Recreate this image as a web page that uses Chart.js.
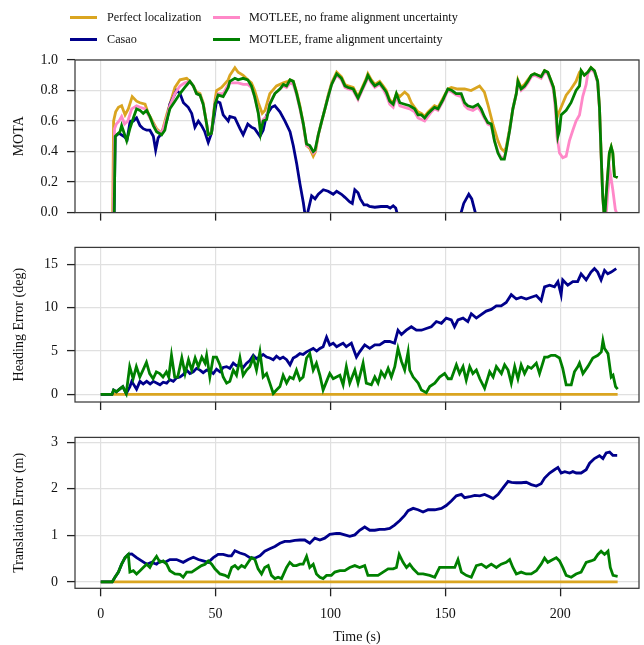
<!DOCTYPE html>
<html>
<head>
<meta charset="utf-8">
<script src="https://cdn.jsdelivr.net/npm/chart.js@4/dist/chart.umd.min.js"></script>
<style>
  html,body{margin:0;padding:0;background:#fff;}
  #wrap{position:relative;width:644px;height:645px;overflow:hidden;font-family:"Liberation Serif","Times New Roman",serif;}
  canvas{position:absolute;left:0;}
  .lg-line{position:absolute;height:3px;width:27px;}
  .lg-text{position:absolute;font-size:12.2px;line-height:14px;color:#111;white-space:nowrap;}
</style>
</head>
<body>
<div id="wrap">
  <canvas id="c1" width="644" height="190" style="top:40px"></canvas>
  <canvas id="c2" width="644" height="190" style="top:230px"></canvas>
  <canvas id="c3" width="644" height="225" style="top:420px"></canvas>
  <div id="legend"></div>
</div>
<script>
// ---------- data ----------
const seriesNames = ["Perfect localization", "Casao", "MOTLEE, no frame alignment uncertainty", "MOTLEE, frame alignment uncertainty"];
const seriesColors = ["#DAA520", "#00008B", "#FF88C8", "#008000"];

const xTicks = [0, 50, 100, 150, 200];
const motaTicks = [0, 0.2, 0.4, 0.6, 0.8, 1.0];
const headingTicks = [0, 5, 10, 15];
const translationTicks = [0, 1, 2, 3];

// MOTA  [time, value]
const motaPerfect = [[4.8,-0.6],[5.6,0.6],[6.5,0.66],[7.7,0.69],[9.1,0.70],[10.6,0.64],[12,0.68],[13.7,0.76],[15.6,0.73],[17.1,0.72],[19.3,0.71],[20.7,0.65],[22.9,0.59],[24.3,0.55],[26.5,0.52],[28.7,0.64],[30.1,0.71],[32.3,0.82],[34.5,0.87],[37.4,0.88],[38.8,0.86],[40.3,0.83],[41.7,0.79],[43.2,0.78],[44.6,0.72],[46.1,0.58],[46.8,0.51],[48.2,0.52],[49.7,0.73],[50.4,0.80],[52.6,0.82],[55.5,0.87],[56.2,0.90],[58.4,0.95],[59.8,0.92],[62,0.90],[64,0.87],[65.6,0.85],[67,0.80],[68.6,0.72],[70.3,0.65],[71.5,0.67],[73.6,0.78],[76.5,0.83],[79.5,0.85],[81.5,0.86],[82.4,0.87],[83.8,0.86],[85.3,0.79],[86.7,0.70],[88.2,0.58],[89.6,0.44],[91,0.42],[92.5,0.37],[93.5,0.40],[94.7,0.51],[96.2,0.60],[97.6,0.68],[99,0.77],[100.5,0.85],[102.7,0.92],[104.8,0.89],[106.3,0.84],[107.7,0.83],[109.9,0.82],[112,0.76],[113.5,0.81],[115.6,0.88],[116.3,0.91],[117.8,0.87],[119.3,0.84],[121.4,0.86],[122.9,0.83],[124.3,0.80],[125.8,0.74],[127.3,0.72],[128.7,0.78],[130.2,0.76],[132.3,0.79],[133.8,0.77],[135.2,0.72],[136.6,0.69],[138.1,0.66],[139.6,0.65],[141,0.63],[142.5,0.66],[143.9,0.68],[145.3,0.70],[146.8,0.69],[149,0.75],[151.1,0.81],[152.6,0.82],[155.4,0.81],[158.4,0.81],[161.2,0.80],[164.9,0.83],[167,0.79],[168.5,0.71],[170.7,0.58],[172.9,0.47],[174.3,0.42],[175.7,0.40],[176.5,0.43],[178,0.55],[179.4,0.68],[180.9,0.78],[181.6,0.87],[183,0.82],[184.5,0.84],[185.9,0.87],[187.4,0.90],[188.8,0.91],[190.3,0.90],[191.7,0.89],[193.2,0.93],[194.6,0.92],[196.1,0.86],[197.1,0.82],[198,0.72],[198.6,0.62],[199,0.64],[200.4,0.69],[202.6,0.77],[204.7,0.81],[206.9,0.86],[208.4,0.92],[209.1,0.93],[210.5,0.90],[212,0.92],[213.4,0.95],[214.9,0.93],[216.3,0.86],[217.1,0.69],[217.8,0.39],[218.5,0.11],[219.3,-0.05],[220,0.11],[221.4,0.39],[222.2,0.43],[222.9,0.39],[223.6,0.24],[225,0.23]];

const motaCasao = [[5.3,-0.6],[6.3,0.5],[8,0.52],[10,0.5],[11.5,0.48],[12.8,0.6],[14.2,0.6],[15.6,0.62],[17.1,0.57],[18.5,0.55],[20,0.54],[21.4,0.54],[22.9,0.50],[23.9,0.41],[25,0.49],[26.5,0.52],[28.7,0.60],[30.1,0.71],[33,0.80],[34.5,0.78],[36,0.72],[38.1,0.69],[39.6,0.65],[41,0.56],[42.5,0.60],[43.9,0.57],[45.3,0.53],[46.8,0.46],[48.2,0.52],[50.4,0.73],[51.9,0.72],[53.3,0.64],[55.5,0.60],[56.2,0.63],[58.4,0.62],[60.6,0.55],[62,0.51],[64,0.58],[65.6,0.56],[67,0.55],[69.3,0.50],[70.7,0.54],[72.2,0.64],[74.4,0.69],[75.8,0.70],[78,0.66],[80.2,0.60],[82.4,0.53],[83.8,0.44],[85.3,0.32],[86.7,0.19],[88.2,0.065],[88.9,-0.01],[89.8,-0.02],[90.4,0.02],[91.8,0.11],[93.3,0.09],[94.7,0.12],[96.9,0.15],[99,0.14],[101.2,0.12],[102.7,0.14],[104.8,0.12],[106.3,0.10],[108.4,0.07],[109.5,0.06],[110.6,0.15],[112,0.13],[113,0.09],[114.6,0.05],[116,0.05],[117,0.04],[119.3,0.035],[122,0.04],[124.7,0.04],[126,0.03],[127.3,0.045],[128.4,0.03],[129.3,-0.02],[131,-0.3],[155,-0.3],[156.5,-0.02],[158,0.06],[160.2,0.12],[161.5,0.09],[163.4,-0.02],[165,-0.3],[218.6,-0.3],[219.6,0.03],[220.4,-0.3]];

const motaNoAlign = [[5.0,-0.6],[6.0,0.55],[6.8,0.58],[8.0,0.60],[9.1,0.63],[10.4,0.58],[11.8,0.60],[13.5,0.68],[15.6,0.70],[17.1,0.69],[19.3,0.68],[20.7,0.64],[22.9,0.58],[24.3,0.54],[26.5,0.52],[28.7,0.62],[30.1,0.70],[32.3,0.78],[34.5,0.83],[36.6,0.85],[38.8,0.86],[40.3,0.83],[41.7,0.78],[43.2,0.77],[44.6,0.71],[46.1,0.58],[46.8,0.51],[48.2,0.52],[49.7,0.72],[51.1,0.78],[53.3,0.78],[55.5,0.84],[56.2,0.85],[58.4,0.85],[59.8,0.85],[62,0.84],[64,0.84],[65.6,0.82],[67,0.76],[68.6,0.66],[69.8,0.55],[70.7,0.61],[72.2,0.63],[73.6,0.72],[75.8,0.78],[78,0.81],[79.5,0.83],[80.9,0.82],[82.4,0.85],[83.8,0.84],[85.3,0.77],[86.7,0.68],[88.2,0.57],[89.6,0.44],[91,0.43],[92.5,0.39],[93.3,0.40],[94.7,0.51],[96.2,0.60],[97.6,0.68],[99,0.76],[100.5,0.84],[102.7,0.90],[104.8,0.87],[106.3,0.82],[107.7,0.81],[109.9,0.80],[112,0.74],[113.5,0.79],[115.6,0.86],[116.3,0.89],[117.8,0.85],[119.3,0.82],[121.4,0.84],[122.9,0.81],[124.3,0.77],[125.8,0.71],[127.3,0.69],[128.7,0.76],[130.2,0.70],[132.3,0.69],[134.5,0.68],[136.6,0.66],[138.1,0.62],[139.6,0.61],[141,0.60],[142.5,0.63],[143.9,0.66],[145.3,0.68],[146.8,0.67],[149,0.73],[151.1,0.80],[152.9,0.79],[154.7,0.77],[156.9,0.76],[158.4,0.70],[159.8,0.68],[162,0.67],[164.2,0.69],[165.6,0.66],[167,0.62],[168.5,0.58],[170,0.57],[171.4,0.47],[172.9,0.40],[174.3,0.36],[175.7,0.36],[176.5,0.41],[178,0.54],[179.4,0.68],[180.9,0.78],[181.6,0.85],[183,0.80],[184.5,0.82],[185.9,0.85],[187.4,0.89],[188.8,0.90],[190.3,0.89],[191.7,0.88],[193.2,0.92],[194.6,0.91],[196.1,0.85],[197.1,0.80],[198,0.66],[198.6,0.50],[199,0.46],[199.7,0.39],[201.1,0.36],[202.6,0.37],[204,0.47],[205.5,0.54],[206.9,0.60],[208.4,0.64],[209.8,0.76],[211.3,0.84],[212,0.91],[213.4,0.94],[214.9,0.92],[216.3,0.85],[217.1,0.68],[217.8,0.38],[218.5,0.10],[219.3,-0.05],[220,-0.02],[220.7,0.13],[221.7,0.27],[222.9,0.15],[224,0.02],[225,-0.02]];

const motaAlign = [[5.3,-0.6],[6.3,0.5],[7.0,0.51],[8.4,0.53],[9.1,0.57],[10.2,0.52],[11.3,0.47],[12.7,0.55],[14.2,0.62],[15.6,0.68],[17.1,0.67],[18.5,0.65],[20,0.67],[21.4,0.63],[22.9,0.57],[24.3,0.53],[26.5,0.51],[27.9,0.54],[28.7,0.60],[30.1,0.68],[32.3,0.73],[34.5,0.78],[36.6,0.82],[38.8,0.86],[40.3,0.83],[41.7,0.78],[43.2,0.77],[44.6,0.71],[46.1,0.58],[46.8,0.51],[48.2,0.52],[49.7,0.71],[51.1,0.77],[53.3,0.76],[55.5,0.82],[56.2,0.86],[58.4,0.88],[59.8,0.87],[62,0.88],[64,0.87],[65.6,0.83],[67,0.76],[68.6,0.65],[69.6,0.52],[70.7,0.60],[72.2,0.61],[73.6,0.71],[75.8,0.78],[78,0.81],[79.5,0.84],[80.9,0.83],[82.4,0.87],[83.8,0.86],[85.3,0.78],[86.7,0.69],[88.2,0.58],[89.6,0.45],[91,0.44],[92.5,0.40],[93.3,0.41],[94.7,0.51],[96.2,0.60],[97.6,0.68],[99,0.76],[100.5,0.84],[102.7,0.91],[104.8,0.88],[106.3,0.83],[107.7,0.82],[109.9,0.81],[112,0.75],[113.5,0.80],[115.6,0.87],[116.3,0.90],[117.8,0.86],[119.3,0.83],[121.4,0.85],[122.9,0.82],[124.3,0.79],[125.8,0.73],[127.3,0.71],[128.7,0.78],[130.2,0.72],[132.3,0.71],[134.5,0.70],[136.6,0.68],[138.1,0.64],[139.6,0.64],[141,0.62],[142.5,0.65],[143.9,0.67],[145.3,0.69],[146.8,0.68],[149,0.74],[151.1,0.81],[152.9,0.80],[154.7,0.78],[156.9,0.78],[158.4,0.72],[159.8,0.70],[162,0.69],[164.2,0.71],[165.6,0.68],[167,0.63],[168.5,0.59],[170,0.58],[171.4,0.47],[172.9,0.39],[174.3,0.35],[175.7,0.35],[176.5,0.41],[178,0.54],[179.4,0.68],[180.9,0.78],[181.6,0.86],[183,0.81],[184.5,0.83],[185.9,0.86],[187.4,0.90],[188.8,0.91],[190.3,0.90],[191.7,0.89],[193.2,0.93],[194.6,0.92],[196.1,0.86],[197.1,0.82],[198,0.71],[198.6,0.58],[199,0.50],[199.7,0.54],[200.4,0.64],[202.6,0.67],[204.7,0.72],[206.9,0.80],[208.4,0.83],[209.1,0.93],[210.5,0.90],[212,0.92],[213.4,0.95],[214.9,0.93],[216.3,0.86],[217.1,0.69],[217.8,0.39],[218.5,0.11],[219.3,-0.05],[220,0.11],[221.4,0.39],[222.2,0.43],[222.9,0.39],[223.6,0.24],[225,0.23]];

// Heading error (deg)  [time, value]
const headingPerfect = [[0,0],[225,0]];
const headingCasao = [[0,0],[4.9,0],[5.6,0.5],[6.8,0.3],[8.2,0.6],[9.6,0.9],[11.1,0.1],[12.7,0.9],[13.5,1.5],[15.6,0.6],[17.1,1.5],[18.5,1.2],[20,1.5],[21.5,1.2],[22.9,1.5],[25.8,1.1],[27.2,1.4],[28.7,1.3],[30.1,1.7],[31.6,1.5],[33,1.9],[34.5,2.0],[36,2.3],[37.4,2.8],[38.8,2.4],[40.3,2.6],[41.7,3.0],[43.2,2.8],[44.6,2.5],[46.1,2.8],[47.5,2.7],[49,2.4],[50.4,2.9],[51.9,2.6],[53.3,3.1],[54.8,3.2],[56.2,3.0],[57.7,3.6],[59.1,3.3],[60.6,3.4],[62,3.1],[63.5,3.6],[64.9,3.9],[66.4,4.5],[67.8,4.1],[69.3,4.3],[70.7,4.6],[72.2,4.3],[73.6,4.2],[75.1,4.0],[76.5,4.4],[78,4.1],[79.4,4.3],[80.9,4.0],[82.4,3.4],[83.8,4.2],[85.2,4.4],[86.7,4.7],[88.1,4.6],[89.6,4.9],[91,5.1],[92.5,5.3],[94,5.0],[95.4,5.3],[96.8,5.5],[98.3,6.6],[99.7,5.7],[101.2,5.9],[102.7,5.5],[104,5.7],[105.5,5.9],[106.9,5.5],[109.1,5.9],[111.3,4.3],[112.7,4.9],[114.9,5.7],[117.1,5.3],[119.3,5.7],[121.4,5.7],[123.6,6.1],[125.8,6.1],[127.9,5.9],[129.4,7.4],[130.9,6.9],[133,7.4],[135.2,7.8],[137.4,7.4],[139.6,7.4],[141.7,7.6],[143.9,7.8],[146.1,8.4],[148.3,8.2],[150.4,8.8],[152.6,8.6],[154,7.8],[155.5,8.6],[157.7,8.8],[159.8,8.4],[161.3,9.3],[163.5,8.8],[165.6,9.2],[167.8,9.6],[170,9.8],[172.2,10.2],[174.3,10.2],[176.5,10.6],[178.7,11.5],[180.9,11.0],[183,11.2],[185.2,11.0],[187.4,11.2],[189.6,11.4],[191.7,10.8],[193.2,12.4],[195.4,12.6],[197.5,12.4],[199,13.0],[200.4,11.5],[201.1,13.2],[203.3,12.6],[205.5,13.0],[207.6,13.0],[209.1,13.9],[211.3,13.2],[213.4,14.1],[214.9,14.5],[216.3,14.1],[217.8,13.2],[219.3,14.3],[220.7,13.9],[222.2,14.1],[224.4,14.5]];
const headingAlign = [[0,0],[4.9,0],[5.6,0.5],[6.8,0.3],[8.2,0.6],[9.6,0.9],[11.1,0.1],[12.6,3.2],[14.1,1.8],[15.5,3.2],[17,2.0],[18.4,2.8],[19.9,3.7],[21.3,2.4],[22.8,1.8],[24.2,2.6],[25.7,2.4],[27.1,2.0],[28.6,2.6],[29.6,2.0],[30.8,4.5],[32.2,2.0],[33.5,2.0],[34.5,3.2],[35.3,4.2],[36.7,2.4],[38.2,4.0],[39.6,2.8],[41.1,4.2],[42.5,3.2],[44,4.3],[45.4,3.6],[46.1,4.5],[47.5,2.0],[49,4.3],[50.4,4.3],[51.9,3.4],[53.3,2.0],[54.8,1.3],[56.2,1.5],[57.7,2.8],[59.1,2.2],[60.6,4.2],[62,2.2],[63.5,2.8],[64.9,3.2],[66.4,4.2],[67.8,2.8],[69.3,4.9],[70.7,2.0],[72.2,2.4],[73.6,1.3],[75.1,0.1],[76.5,0.5],[78,0.9],[79.4,2.2],[80.9,1.3],[82.3,2.0],[83.8,1.8],[85.2,2.8],[86.7,1.65],[88.1,2.0],[89.6,4.2],[91,4.7],[92.5,2.8],[93.9,3.6],[95.4,2.2],[96.8,0.5],[98.3,1.5],[99.7,2.4],[101.2,1.8],[102.6,2.0],[104.1,2.2],[105.5,1.1],[106.9,3.2],[108.4,1.3],[110.6,2.8],[112,1.3],[114.2,3.6],[115.6,1.3],[117.8,1.1],[119.3,2.0],[120.7,1.3],[122.1,2.6],[123.6,2.0],[125.1,3.0],[126.5,2.0],[128,3.2],[129.4,5.3],[130.9,3.8],[132.3,2.8],[133.8,4.9],[134.5,2.8],[136,2.0],[138.2,1.3],[139.6,0.5],[141.7,0.2],[143.2,0.9],[145.4,1.3],[147.5,2.0],[149.7,2.4],[151.2,1.8],[152.6,1.8],[154.8,3.4],[156.2,2.4],[157.7,3.2],[159.1,1.65],[160.6,3.2],[162,2.4],[163.5,2.8],[165,1.8],[167.1,0.7],[169.3,2.6],[170.8,2.0],[172.2,3.2],[174.4,2.4],[175.8,3.4],[177.3,2.8],[178.7,1.3],[180.2,3.2],[181.6,1.8],[183,3.4],[184.5,2.4],[186,3.2],[187.4,3.0],[189.6,3.6],[191,2.4],[193.2,4.3],[194.6,4.3],[196.1,4.5],[197.8,4.5],[199.7,4.2],[201.1,3.0],[202.6,1.1],[204.8,1.1],[206.2,2.6],[207.7,3.2],[208.4,3.6],[209.9,2.4],[212,3.2],[214.2,4.2],[216.4,4.5],[217.9,4.9],[218.6,6.2],[219.3,5.3],[220.8,4.7],[222.2,2.0],[223,2.2],[224.1,0.9],[225,0.6]];

// Translation error (m)  [time, value]
const translationPerfect = [[0,0],[225,0]];
const translationCasao = [[0,0],[5,0],[6.2,0.10],[7.7,0.21],[9.1,0.38],[10.6,0.52],[12,0.59],[13.5,0.60],[15.6,0.52],[17.8,0.45],[20,0.38],[22.2,0.42],[24.3,0.38],[25.8,0.45],[28,0.42],[30.1,0.48],[33,0.48],[35.9,0.42],[38.1,0.48],[40.3,0.53],[42.5,0.48],[44.6,0.45],[46.8,0.42],[49,0.52],[51.1,0.59],[53.3,0.59],[55.5,0.56],[56.9,0.56],[58.4,0.67],[60.6,0.62],[62.7,0.59],[64.9,0.52],[67.1,0.51],[69.3,0.56],[71.4,0.66],[73.6,0.71],[75.8,0.76],[78,0.83],[80.1,0.87],[82.3,0.87],[84.5,0.89],[86.7,0.90],[88.8,0.90],[91,0.83],[93.2,0.94],[95.4,0.90],[97.5,0.94],[99.7,1.02],[102.6,1.04],[104,1.04],[106.2,1.01],[108.4,0.98],[110.6,1.01],[112.7,1.11],[114.9,1.18],[117.1,1.11],[119.3,1.11],[121.4,1.13],[123.6,1.13],[125.8,1.15],[127.9,1.22],[130.2,1.32],[132.3,1.43],[133.8,1.53],[136,1.58],[138.1,1.55],[140.3,1.50],[142.5,1.55],[145.4,1.55],[148.3,1.58],[150.4,1.64],[152.6,1.74],[154.8,1.85],[157,1.88],[158.4,1.81],[160.6,1.83],[162.8,1.86],[165,1.85],[167.1,1.88],[169.3,1.83],[170.8,1.79],[173,1.88],[175.1,2.02],[177.3,2.16],[178.8,2.14],[180.9,2.13],[183,2.13],[185.2,2.14],[187.4,2.09],[189.6,2.06],[191.7,2.11],[193.2,2.23],[195.4,2.34],[197.5,2.41],[199,2.46],[200.4,2.34],[202,2.37],[204.1,2.34],[205.5,2.37],[207,2.34],[209.1,2.34],[211.3,2.41],[212.8,2.55],[214.9,2.65],[217.1,2.71],[218.6,2.65],[220,2.77],[221.5,2.79],[222.9,2.72],[224.8,2.72]];
const translationAlign = [[0,0],[5,0],[6.2,0.10],[7.7,0.21],[9.1,0.38],[10.6,0.52],[12,0.59],[12.7,0.21],[14.2,0.24],[15.6,0.17],[17.1,0.24],[18.5,0.31],[20,0.38],[21.4,0.31],[22.9,0.45],[24.3,0.55],[25.8,0.42],[27.2,0.45],[28.7,0.38],[30.1,0.24],[32.3,0.17],[34.5,0.16],[35.9,0.10],[37.4,0.21],[39.6,0.21],[41.7,0.28],[43.9,0.35],[45.4,0.38],[46.8,0.45],[48.3,0.38],[49.7,0.28],[51.9,0.17],[54.1,0.14],[55.5,0.10],[57,0.31],[58.4,0.35],[59.8,0.28],[61.3,0.35],[62.7,0.31],[64.2,0.42],[65.6,0.52],[67.1,0.48],[68.5,0.28],[70,0.17],[71.4,0.31],[72.9,0.35],[74.3,0.14],[75.8,0.07],[77.2,0.10],[78.7,0.07],[80.9,0.31],[82.3,0.42],[83.8,0.35],[85.2,0.35],[86.7,0.38],[88.1,0.38],[89.6,0.55],[91,0.31],[92.5,0.38],[93.9,0.17],[95.4,0.10],[96.8,0.07],[98.3,0.14],[100.4,0.14],[101.9,0.21],[104.1,0.24],[106.2,0.24],[108.4,0.31],[110.6,0.35],[112.7,0.31],[114.9,0.35],[116.3,0.14],[118.5,0.14],[120.7,0.14],[122.9,0.21],[125.1,0.28],[127.3,0.28],[128.7,0.31],[129.9,0.59],[131.6,0.42],[133.1,0.31],[134.5,0.38],[136,0.28],[138.2,0.17],[140.3,0.17],[143.2,0.14],[145.4,0.10],[147.5,0.31],[149.7,0.31],[151.9,0.31],[154.1,0.31],[155.5,0.48],[157,0.21],[159.1,0.14],[161.3,0.10],[163.5,0.35],[165.7,0.38],[167.8,0.31],[170,0.38],[172.2,0.31],[174.3,0.38],[176.5,0.42],[178,0.48],[179.4,0.31],[180.9,0.17],[183,0.21],[185.2,0.17],[187.4,0.17],[189.6,0.24],[191.7,0.38],[193.2,0.51],[194.6,0.42],[196.8,0.48],[198.3,0.52],[199.7,0.45],[201.1,0.31],[202.6,0.14],[204.8,0.10],[206.9,0.17],[209.1,0.21],[211.3,0.42],[213.4,0.45],[214.9,0.48],[216.4,0.59],[217.8,0.66],[219.3,0.59],[220.8,0.66],[221.8,0.31],[223,0.14],[225,0.12]];

// ---------- rendering ----------
const FONT = "'Liberation Serif', 'Times New Roman', serif";
const X_MIN = -11.2, X_MAX = 234.3;

// legend (HTML, real text)
(function buildLegend(){
  const lg = document.getElementById('legend');
  const items = [
    {i:0, lx:70, tx:107, y:17.5},
    {i:1, lx:70, tx:107, y:39},
    {i:2, lx:213, tx:249, y:17.5},
    {i:3, lx:213, tx:249, y:39}
  ];
  items.forEach(it => {
    const ln = document.createElement('div');
    ln.className = 'lg-line';
    ln.style.left = it.lx + 'px';
    ln.style.top = (it.y - 1.5) + 'px';
    ln.style.background = seriesColors[it.i];
    lg.appendChild(ln);
    const tx = document.createElement('div');
    tx.className = 'lg-text';
    tx.style.left = it.tx + 'px';
    tx.style.top = (it.y - 7.5) + 'px';
    tx.textContent = seriesNames[it.i];
    lg.appendChild(tx);
  });
})();

const boxPlugin = {
  id: 'box',
  afterDraw(chart) {
    const {ctx, chartArea: a} = chart;
    ctx.save();
    ctx.strokeStyle = '#3a3a3a';
    ctx.lineWidth = 1.25;
    ctx.strokeRect(a.left, a.top, a.right - a.left, a.bottom - a.top);
    ctx.restore();
  }
};

function ds(pairs, idx, order) {
  return {
    label: seriesNames[idx],
    data: pairs.map(p => ({x: p[0], y: p[1]})),
    borderColor: seriesColors[idx],
    backgroundColor: seriesColors[idx],
    borderWidth: 2.8,
    pointRadius: 0,
    tension: 0,
    fill: false,
    order: order,
    clip: 0
  };
}

function makeChart(id, datasets, opts) {
  const c = document.getElementById(id);
  return new Chart(c, {
    type: 'line',
    data: { datasets },
    plugins: [boxPlugin],
    options: {
      responsive: false,
      animation: false,
      devicePixelRatio: 1,
      layout: { padding: { top: opts.padTop, right: 5, bottom: 0, left: 0 } },
      plugins: { legend: { display: false }, tooltip: { enabled: false } },
      scales: {
        x: {
          type: 'linear',
          min: X_MIN, max: X_MAX,
          afterBuildTicks: s => { s.ticks = xTicks.map(v => ({value: v})); },
          afterFit: s => { s.height = opts.xHeight; },
          grid: { color: '#e0e0e0', lineWidth: 1.2, tickLength: 8, tickColor: '#222', tickWidth: 1.3 },
          border: { display: false },
          ticks: { display: opts.xLabels, color: '#111', font: { family: FONT, size: 14 }, padding: 10, maxRotation: 0 },
          title: { display: opts.xLabels, text: 'Time (s)', color: '#111', font: { family: FONT, size: 14 }, padding: { top: 0, bottom: -1 } }
        },
        y: {
          type: 'linear',
          min: opts.yMin, max: opts.yMax,
          afterBuildTicks: s => { s.ticks = opts.yTicks.map(v => ({value: v})); },
          afterFit: s => { s.width = 75; },
          grid: { color: '#e0e0e0', lineWidth: 1.2, tickLength: 8, tickColor: '#222', tickWidth: 1.3 },
          border: { display: false },
          ticks: { color: '#111', font: { family: FONT, size: 14 }, padding: 9, callback: opts.fmt },
          title: { display: true, text: opts.yTitle, color: '#111', font: { family: FONT, size: 14 }, padding: { top: 11, bottom: 0 } }
        }
      }
    }
  });
}

makeChart('c1', [
  ds(motaPerfect, 0, 3), ds(motaCasao, 1, 2), ds(motaNoAlign, 2, 1), ds(motaAlign, 3, 0)
], { padTop: 20, xHeight: 15, xLabels: false, yMin: 0, yMax: 1.0, yTicks: motaTicks, yTitle: 'MOTA', fmt: v => v.toFixed(1) });

makeChart('c2', [
  ds(headingPerfect, 0, 3), ds(headingCasao, 1, 2), ds(headingAlign, 3, 0)
], { padTop: 16.7, xHeight: 18, xLabels: false, yMin: -0.88, yMax: 16.95, yTicks: headingTicks, yTitle: 'Heading Error (deg)', fmt: v => String(v) });

makeChart('c3', [
  ds(translationPerfect, 0, 3), ds(translationCasao, 1, 2), ds(translationAlign, 3, 0)
], { padTop: 13.3, xHeight: 56.7, xLabels: true, yMin: -0.138, yMax: 3.105, yTicks: translationTicks, yTitle: 'Translation Error (m)', fmt: v => String(v) });
</script>
</body>
</html>
